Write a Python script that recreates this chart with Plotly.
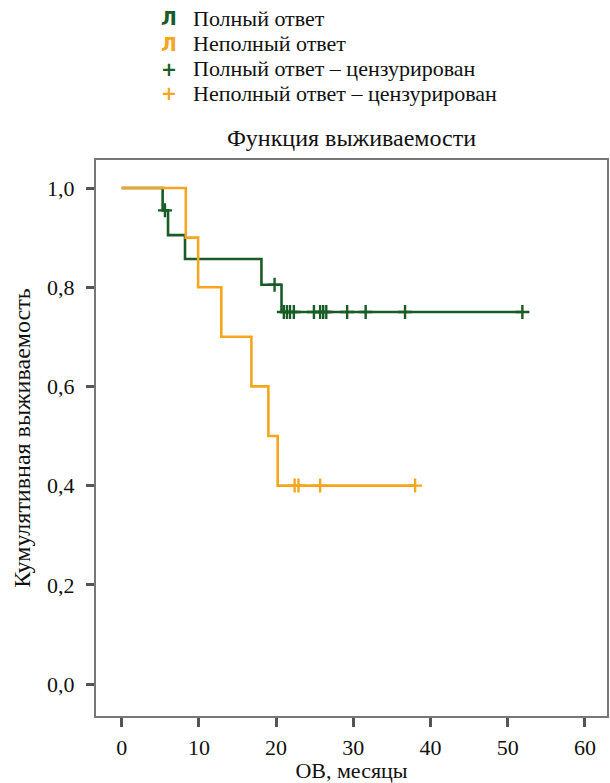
import plotly.graph_objects as go

# ---- data ----
full_times = [0, 5.3, 6.0, 8.2, 18.1, 20.7, 51.9]
full_surv = [1.0, 0.955, 0.905, 0.857, 0.805, 0.75, 0.75]
full_censor_times = [5.6, 19.8, 21.0, 21.4, 21.8, 22.3, 24.9, 25.7, 26.1, 26.5, 29.2, 31.6, 36.7, 51.9]

partial_times = [0, 8.3, 9.9, 12.9, 16.8, 19.0, 20.2, 38.0]
partial_surv = [1.0, 0.9, 0.8, 0.7, 0.6, 0.5, 0.4, 0.4]
partial_censor_times = [22.4, 22.9, 25.7, 38.0]

x_ticks = [0, 10, 20, 30, 40, 50, 60]
y_ticks = [0.0, 0.2, 0.4, 0.6, 0.8, 1.0]
y_tick_labels = ["0,0", "0,2", "0,4", "0,6", "0,8", "1,0"]

names = ["Полный ответ", "Неполный ответ",
         "Полный ответ – цензурирован", "Неполный ответ – цензурирован"]
legend_icons = ["Л", "Л", "+", "+"]

GREEN = "#1a5c26"
ORANGE = "#f5a51e"
colors = [GREEN, ORANGE, GREEN, ORANGE]
FONT = "Liberation Serif"
TXT = "#111111"

W, H = 610, 783
ML, MR, MT, MB = 96, 1, 160, 67
PW, PH = W - ML - MR, H - MT - MB


def step_value(times, surv, t):
    val = surv[0]
    for ti, si in zip(times, surv):
        if ti <= t:
            val = si
    return val


def px_x(px):
    return (px - ML) / PW


def px_y(py):
    return (H - MB - py) / PH


fig = go.Figure()
fig.add_trace(go.Scatter(x=full_times, y=full_surv, mode="lines", line_shape="hv",
                         line=dict(color=GREEN, width=2.6), name=names[0]))
fig.add_trace(go.Scatter(x=partial_times, y=partial_surv, mode="lines", line_shape="hv",
                         line=dict(color=ORANGE, width=2.6), name=names[1]))
fig.add_trace(go.Scatter(x=full_censor_times,
                         y=[step_value(full_times, full_surv, t) for t in full_censor_times],
                         mode="markers", name=names[2],
                         marker=dict(symbol="cross-thin", size=10, line=dict(color=GREEN, width=2.4))))
fig.add_trace(go.Scatter(x=partial_censor_times,
                         y=[step_value(partial_times, partial_surv, t) for t in partial_censor_times],
                         mode="markers", name=names[3],
                         marker=dict(symbol="cross-thin", size=10, line=dict(color=ORANGE, width=2.4))))

# legend drawn as text rows (compact spacing like the reference)
row_y = [18, 44, 69, 93]
annotations = []
for i, name in enumerate(names):
    annotations.append(dict(xref="paper", yref="paper", x=px_x(191), y=px_y(row_y[i]),
                            xanchor="left", yanchor="middle", showarrow=False,
                            text=name, font=dict(family=FONT, size=22, color=TXT)))
    annotations.append(dict(xref="paper", yref="paper", x=px_x(169), y=px_y(row_y[i]),
                            xanchor="center", yanchor="middle", showarrow=False,
                            text="<b>" + legend_icons[i] + "</b>",
                            font=dict(family="DejaVu Sans", size=19, color=colors[i])))

fig.update_layout(
    width=W, height=H,
    margin=dict(l=ML, r=MR, t=MT, b=MB),
    paper_bgcolor="white", plot_bgcolor="white",
    font=dict(family=FONT, size=22, color=TXT),
    title=dict(text="Функция выживаемости", x=0.5, xanchor="center", xref="paper",
               y=1 - 138 / H, yanchor="middle", font=dict(family=FONT, size=24, color=TXT)),
    showlegend=False,
    annotations=annotations,
    xaxis=dict(range=[-3.33, 62.86], tickvals=x_ticks, ticks="outside", ticklen=9,
               tickwidth=2.5, tickcolor="#555555", showgrid=False, zeroline=False,
               showline=True, linecolor="#777777", linewidth=2, mirror=True,
               tickfont=dict(family=FONT, size=22, color=TXT), ticklabelstandoff=2,
               title=dict(text="ОВ, месяцы", standoff=6,
                          font=dict(family=FONT, size=22, color=TXT))),
    yaxis=dict(range=[-0.0645, 1.0565], tickvals=y_ticks, ticktext=y_tick_labels,
               ticks="outside", ticklen=8, tickwidth=2.5, tickcolor="#555555",
               showgrid=False, zeroline=False, showline=True, linecolor="#777777",
               linewidth=2, mirror=True, tickfont=dict(family=FONT, size=22, color=TXT),
               ticklabelstandoff=7,
               title=dict(text="Кумулятивная выживаемость", standoff=10,
                          font=dict(family=FONT, size=24, color=TXT))),
)

fig.write_html("out.html")
